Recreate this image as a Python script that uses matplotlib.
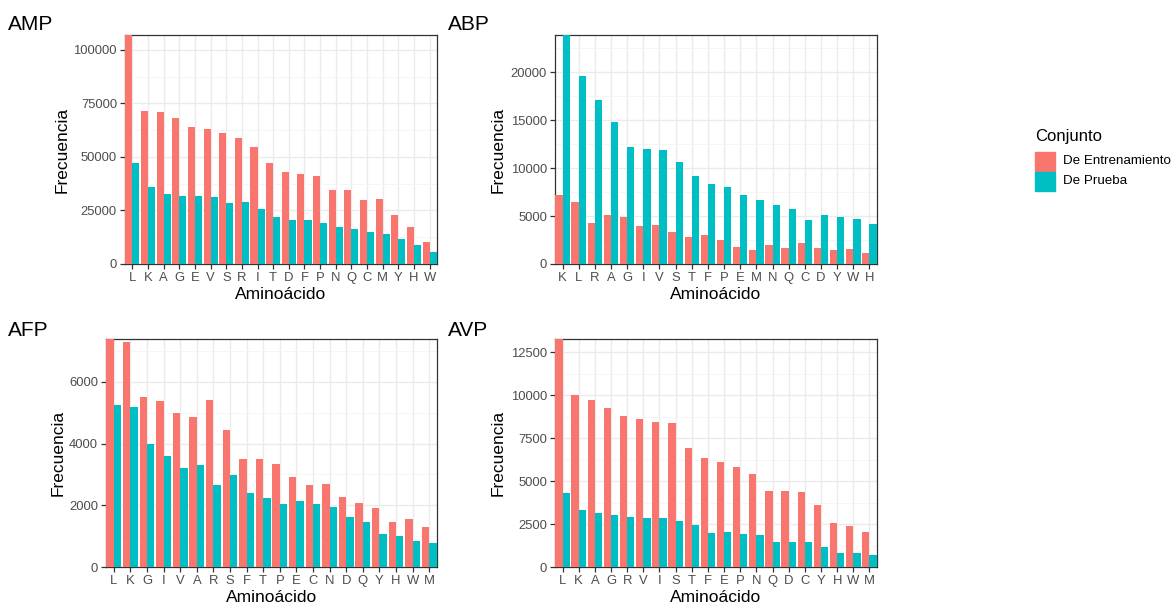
import numpy as np
import matplotlib.pyplot as plt
from matplotlib.ticker import MultipleLocator
from matplotlib.patches import Rectangle

plt.rcParams['font.family'] = ['Liberation Sans', 'DejaVu Sans']

# datos (frecuencia por aminoacido)
amp_aa = ["L", "K", "A", "G", "E", "V", "S", "R", "I", "T", "D", "F", "P", "N", "Q", "C", "M", "Y", "H", "W"]
amp_train = [112000, 71400, 70800, 68400, 64100, 63300, 61400, 59100, 54700, 47400,
             43100, 42000, 41100, 34400, 34400, 29700, 30500, 22700, 17300, 10400]
amp_test = [47400, 35900, 32700, 32000, 31700, 31100, 28300, 28800, 25700, 21900,
            20700, 20700, 19300, 17300, 16300, 15100, 13800, 11700, 8700, 5800]

abp_aa = ["K", "L", "R", "A", "G", "I", "V", "S", "T", "F", "P", "E", "M", "N", "Q", "C", "D", "Y", "W", "H"]
abp_train = [7200, 6450, 4250, 5100, 4900, 3970, 4040, 3300, 2820, 3000,
             2500, 1780, 1500, 1950, 1670, 2230, 1670, 1500, 1570, 1110]
abp_test = [25500, 19600, 17100, 14800, 12200, 12050, 11900, 10600, 9200, 8360,
            8050, 7200, 6720, 6170, 5750, 4560, 5090, 4910, 4700, 4150]

afp_aa = ["L", "K", "G", "I", "V", "A", "R", "S", "F", "T", "P", "E", "C", "N", "D", "Q", "Y", "H", "W", "M"]
afp_train = [7600, 7280, 5500, 5380, 5000, 4850, 5420, 4440, 3490, 3490,
             3340, 2930, 2660, 2690, 2280, 2060, 1920, 1470, 1570, 1300]
afp_test = [5260, 5180, 3990, 3610, 3220, 3290, 2660, 2990, 2390, 2250,
            2030, 2150, 2030, 1960, 1630, 1450, 1060, 1000, 850, 790]

avp_aa = ["L", "K", "A", "G", "R", "V", "I", "S", "T", "F", "E", "P", "N", "Q", "D", "C", "Y", "H", "W", "M"]
avp_train = [13600, 9980, 9710, 9220, 8760, 8620, 8450, 8390, 6940, 6360,
             6100, 5830, 5410, 4440, 4400, 4340, 3590, 2540, 2380, 2050]
avp_test = [4300, 3330, 3120, 3000, 2910, 2850, 2850, 2690, 2420, 2000,
            2050, 1900, 1840, 1450, 1450, 1450, 1140, 830, 830, 700]

ROJO = "#F8766D"
AZUL = "#00BFC4"
W, H = 1173, 605

fig = plt.figure(figsize=(W / 100, H / 100), dpi=100)

def px_axes(left, top, right, bottom):
    return fig.add_axes([left / W, 1 - bottom / H, (right - left) / W, (bottom - top) / H])

def panel(box, titulo, tit_xy, aa, train, test, ymax, paso, ylab_x, xlab_y):
    ax = px_axes(*box)
    x = np.arange(len(aa))
    ax.bar(x - 0.225, train, width=0.45, color=ROJO, zorder=3)
    ax.bar(x + 0.225, test, width=0.45, color=AZUL, zorder=3)
    ax.set_xlim(-0.47, len(aa) - 0.53)
    ax.set_ylim(0, ymax)
    ax.set_xticks(x)
    ax.set_xticklabels(aa)
    ax.yaxis.set_major_locator(MultipleLocator(paso))
    ax.yaxis.set_minor_locator(MultipleLocator(paso / 2))
    ax.grid(True, which='major', color='#EBEBEB', lw=1.0, zorder=0)
    ax.grid(True, which='minor', axis='y', color='#F4F4F4', lw=0.6, zorder=0)
    ax.tick_params(axis='both', which='major', colors='#333333', labelcolor='#4D4D4D',
                   labelsize=9.4, length=3.8, width=0.9, pad=2)
    ax.tick_params(axis='y', which='minor', length=0)
    for s in ax.spines.values():
        s.set_color('#333333')
        s.set_linewidth(0.9)
    # etiquetas de los ejes (posicion en pixeles)
    ax.set_ylabel("Frecuencia", fontsize=12.5, color='black')
    ax.yaxis.set_label_coords((ylab_x - box[0]) / (box[2] - box[0]), 0.5)
    ax.set_xlabel("Aminoácido", fontsize=12.5, color='black')
    ax.xaxis.set_label_coords(0.5, -(xlab_y - box[3]) / (box[3] - box[1]))
    fig.text(tit_xy[0] / W, 1 - tit_xy[1] / H, titulo, fontsize=15, ha='left', va='center')
    return ax

# paneles (en pixeles: izquierda, arriba, derecha, abajo)
panel((125, 35, 437, 264), "AMP", (8, 25), amp_aa, amp_train, amp_test, 107000, 25000, 70, 287)
panel((555, 35, 877, 264), "ABP", (448, 25), abp_aa, abp_train, abp_test, 23900, 5000, 506, 287)
panel((106, 339, 437, 567), "AFP", (8, 330), afp_aa, afp_train, afp_test, 7390, 2000, 66, 590)
panel((555, 339, 877, 567), "AVP", (448, 330), avp_aa, avp_train, avp_test, 13260, 2500, 506, 590)

# leyenda
fig.text(1035 / W, 1 - 136 / H, "Conjunto", fontsize=12, ha='left', va='center')
for i, (c, lab) in enumerate([(ROJO, "De Entrenamiento"), (AZUL, "De Prueba")]):
    y0 = 152 + i * 20
    fig.patches.append(Rectangle((1035 / W, 1 - (y0 + 19) / H), 20 / W, 19 / H,
                                 transform=fig.transFigure, color=c, figure=fig))
    fig.text(1063 / W, 1 - (y0 + 9.5) / H, lab, fontsize=9.6, ha='left', va='center')

fig.savefig("out.png", dpi=100, facecolor='white')
